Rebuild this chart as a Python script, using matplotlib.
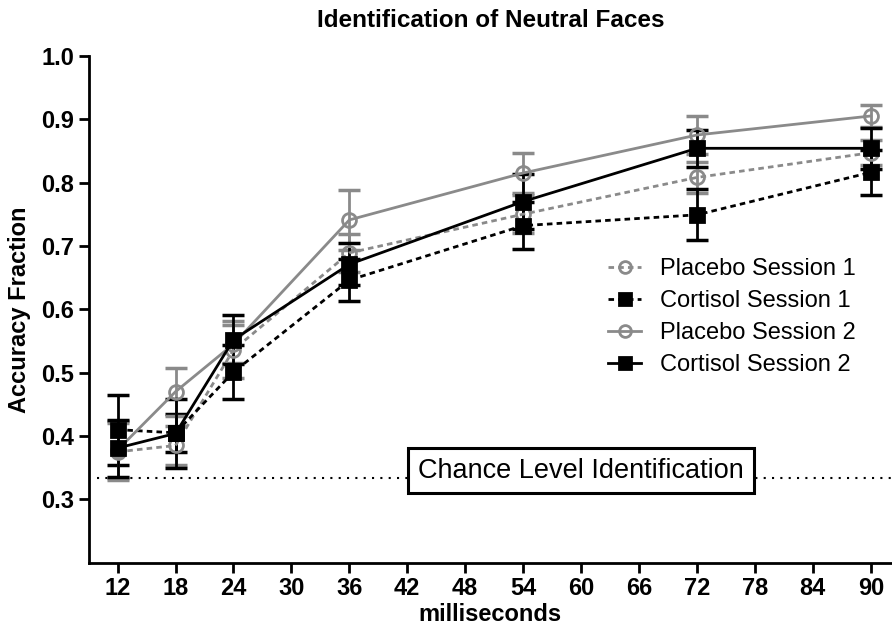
import matplotlib
matplotlib.use("Agg")
import matplotlib.pyplot as plt

plt.rcParams['font.family'] = ['Liberation Sans', 'DejaVu Sans']

# data
ms = [12, 18, 24, 36, 54, 72, 90]
placebo1 = [0.375, 0.385, 0.536, 0.689, 0.750, 0.808, 0.847]
placebo1_err = [0.045, 0.030, 0.045, 0.030, 0.030, 0.025, 0.020]
cortisol1 = [0.410, 0.405, 0.501, 0.646, 0.732, 0.749, 0.816]
cortisol1_err = [0.055, 0.030, 0.043, 0.033, 0.037, 0.040, 0.035]
placebo2 = [0.378, 0.470, 0.545, 0.741, 0.815, 0.875, 0.905]
placebo2_err = [0.045, 0.038, 0.030, 0.047, 0.031, 0.030, 0.018]
cortisol2 = [0.381, 0.404, 0.552, 0.671, 0.770, 0.854, 0.854]
cortisol2_err = [0.045, 0.055, 0.039, 0.033, 0.043, 0.029, 0.032]
chance = 1 / 3
xticks = list(range(12, 91, 6))
yticks = [0.3, 0.4, 0.5, 0.6, 0.7, 0.8, 0.9, 1.0]

gray = '#8a8a8a'
dots = (0, (2, 1.5))

fig = plt.figure(figsize=(8.92, 6.31), dpi=100)
ax = fig.add_axes([0.0994, 0.1082, 0.9006, 0.8034])

series = [
    (placebo1, placebo1_err, gray, dots, 'o', 'none', 'Placebo Session 1'),
    (cortisol1, cortisol1_err, 'black', dots, 's', 'black', 'Cortisol Session 1'),
    (placebo2, placebo2_err, gray, '-', 'o', 'none', 'Placebo Session 2'),
    (cortisol2, cortisol2_err, 'black', '-', 's', 'black', 'Cortisol Session 2'),
]
handles = []
for y, err, col, ls, mk, fc, lab in series:
    # error bars first, then the line with markers on top
    ax.errorbar(ms, y, yerr=err, fmt='none', ecolor=col, elinewidth=2,
                capsize=8, capthick=2.5, zorder=2)
    h, = ax.plot(ms, y, color=col, linestyle=ls, linewidth=2, marker=mk,
                 markersize=10, markerfacecolor=fc, markeredgecolor=col,
                 markeredgewidth=2, label=lab, zorder=3)
    handles.append(h)

# chance line and its label (box sits a little above the line)
ax.plot([9.9, 93], [chance, chance], color='black', linestyle=(0, (1, 3)),
        linewidth=1.5, zorder=1)
ax.text(60, chance + 0.012, 'Chance Level Identification', fontsize=19.5,
        ha='center', va='center', zorder=4,
        bbox=dict(boxstyle='square,pad=0.36', fc='white', ec='black', lw=2.2))

ax.set_xlim(9, 92.2)
ax.set_ylim(0.2, 1.0)
ax.set_xticks(xticks)
ax.set_yticks(yticks)
ax.set_yticklabels(['%.1f' % v for v in yticks])
ax.tick_params(labelsize=17, width=2, length=7, direction='out')
for lbl in ax.get_xticklabels() + ax.get_yticklabels():
    lbl.set_fontweight('bold')
ax.spines['top'].set_visible(False)
ax.spines['right'].set_visible(False)
ax.spines['left'].set_linewidth(2)
ax.spines['bottom'].set_linewidth(2)

ax.set_xlabel('milliseconds', fontsize=17, fontweight='bold', labelpad=2)
ax.set_ylabel('Accuracy Fraction', fontsize=17, fontweight='bold', labelpad=7)
ax.set_title('Identification of Neutral Faces', fontsize=17.5,
             fontweight='bold', pad=21)

fig.legend(handles=handles, loc='upper left',
           bbox_to_anchor=(608 / 892, 1 - 258 / 631), frameon=False,
           fontsize=17, handlelength=1.4, handletextpad=0.8, markerscale=0.85,
           labelspacing=0.43, borderpad=0, borderaxespad=0, numpoints=1)

fig.savefig('out.png', dpi=100)
